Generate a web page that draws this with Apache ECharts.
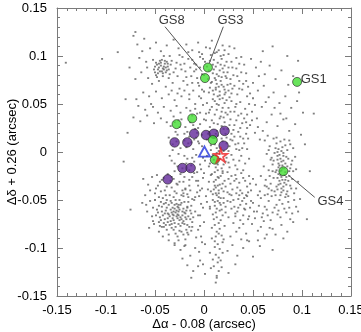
<!DOCTYPE html>
<html><head><meta charset="utf-8">
<script src="https://cdn.jsdelivr.net/npm/echarts@6/dist/echarts.min.js"></script>
<style>html,body{margin:0;padding:0;background:#fff}#c{width:361px;height:332px}</style>
</head><body><div id="c"></div>
<script>
// tick labels
const tickValues = [-0.15,-0.1,-0.05,0,0.05,0.1,0.15];
const xTitle = 'Δα - 0.08 (arcsec)';
const yTitle = 'Δδ + 0.26 (arcsec)';

const cloudUpperLeft = [[-0.072,0.121],[-0.068,0.112],[-0.061,0.118],[-0.055,0.108],[-0.049,0.114],[-0.044,0.105],[-0.038,0.111],[-0.031,0.117],[-0.026,0.108],[-0.022,0.099],
[-0.066,0.098],[-0.059,0.094],[-0.052,0.096],[-0.048,0.091],[-0.046,0.088],[-0.044,0.093],[-0.042,0.087],[-0.040,0.092],[-0.043,0.084],[-0.047,0.082],
[-0.051,0.086],[-0.037,0.089],[-0.035,0.081],[-0.033,0.095],[-0.029,0.087],[-0.027,0.079],[-0.024,0.091],[-0.064,0.083],[-0.070,0.076],[-0.057,0.077],
[-0.053,0.071],[-0.046,0.074],[-0.039,0.068],[-0.032,0.072],[-0.025,0.066],[-0.021,0.074],[-0.062,0.062],[-0.056,0.058],[-0.049,0.063],[-0.043,0.056],
[-0.036,0.060],[-0.030,0.054],[-0.023,0.058],[-0.067,0.048],[-0.060,0.044],[-0.054,0.050],[-0.047,0.041],[-0.041,0.047],[-0.034,0.043],[-0.028,0.048],
[-0.072,0.036],[-0.065,0.032],[-0.058,0.038],[-0.051,0.030],[-0.044,0.035],[-0.038,0.031],[-0.031,0.037],[-0.026,0.033],[-0.069,0.055],[-0.041,0.100],
[-0.050,0.089],[-0.045,0.095],[-0.041,0.089],[-0.038,0.094],[-0.036,0.086],[-0.034,0.091],[-0.049,0.080],[-0.042,0.079],[-0.039,0.083],[-0.031,0.083],
[-0.028,0.093],[-0.023,0.086],[-0.020,0.092],[-0.058,0.088],[-0.063,0.105],[-0.035,0.100],[-0.025,0.101],[-0.016,0.104],[-0.012,0.096],[-0.008,0.091],
[-0.020,0.064],[-0.015,0.060],[-0.012,0.072],[-0.007,0.077],[-0.010,0.084],[-0.014,0.088],[-0.018,0.078],[-0.033,0.064],[-0.027,0.061],[-0.052,0.047],
[-0.049,0.093],[-0.047,0.086],[-0.046,0.092],[-0.045,0.084],[-0.044,0.090],[-0.043,0.096],[-0.042,0.082],[-0.041,0.086],[-0.040,0.095],[-0.039,0.088],
[-0.038,0.085],[-0.037,0.092],[-0.050,0.083],[-0.048,0.078],[-0.036,0.077]];
const cloudUpperCenter = [[-0.018,0.112],[-0.012,0.106],[-0.006,0.114],[0.002,0.109],[0.008,0.116],[0.013,0.104],[0.019,0.111],[0.025,0.102],[0.031,0.108],[0.038,0.099],
[-0.016,0.097],[-0.010,0.092],[-0.004,0.099],[0.001,0.094],[0.007,0.101],[0.010,0.096],[0.012,0.089],[0.014,0.093],[0.016,0.085],[0.018,0.097],
[0.021,0.090],[0.024,0.083],[0.028,0.094],[0.033,0.087],[0.041,0.091],[-0.019,0.084],[-0.013,0.079],[-0.008,0.086],[-0.002,0.081],[0.004,0.076],
[0.009,0.082],[0.011,0.077],[0.013,0.071],[0.015,0.079],[0.017,0.074],[0.020,0.068],[0.023,0.077],[0.027,0.071],[0.030,0.080],[0.036,0.074],
[0.043,0.082],[-0.017,0.070],[-0.011,0.064],[-0.005,0.069],[0.000,0.063],[0.006,0.067],[0.010,0.060],[0.012,0.065],[0.014,0.058],[0.016,0.063],
[0.019,0.056],[0.022,0.062],[0.026,0.057],[0.029,0.066],[0.034,0.060],[0.039,0.065],[0.044,0.058],[-0.015,0.055],[-0.009,0.050],[-0.003,0.056],
[0.003,0.051],[0.008,0.047],[0.011,0.053],[0.013,0.044],[0.015,0.049],[0.018,0.042],[0.021,0.051],[0.025,0.046],[0.028,0.053],[0.032,0.047],
[0.037,0.052],[0.042,0.045],[-0.014,0.043],[-0.007,0.040],[0.005,0.041],[0.024,0.039],[0.031,0.042],[0.035,0.038],[0.046,0.050],[0.040,0.071],
[0.026,0.110],[0.033,0.098],[0.036,0.092],[0.029,0.088],[0.034,0.079],[0.038,0.083],[0.027,0.076],[0.031,0.069],[0.036,0.066],[0.025,0.064],
[0.015,0.106],[0.020,0.101],[0.023,0.094],[0.017,0.091],[0.010,0.086],[0.020,0.083],[0.025,0.088],[0.006,0.095],[-0.002,0.102],[0.003,0.089],
[0.012,0.075],[0.018,0.078],[0.024,0.070],[0.007,0.072],[0.015,0.068],[0.021,0.065],[0.028,0.061],[0.009,0.064],[0.016,0.059],[0.023,0.054]];
const cloudUpperRight = [[0.048,0.097],[0.053,0.088],[0.058,0.094],[0.062,0.081],[0.067,0.090],[0.073,0.076],[0.079,0.085],[0.086,0.070],[0.091,0.079],[0.097,0.062],
[0.050,0.072],[0.055,0.064],[0.061,0.069],[0.066,0.057],[0.071,0.062],[0.077,0.051],[0.083,0.058],[0.089,0.046],[0.095,0.053],[0.101,0.041],
[0.049,0.042],[0.054,0.035],[0.059,0.047],[0.064,0.031],[0.069,0.039],[0.075,0.027],[0.081,0.034],[0.087,0.022],[0.093,0.029],[0.099,0.018],
[0.052,0.020],[0.057,0.013],[0.047,0.028],[0.103,0.008],[0.096,0.095],[0.085,0.100],[0.060,0.105],[0.070,0.110],
[0.043,0.074],[0.045,0.068],[0.047,0.061],[0.050,0.056],[0.052,0.049],[0.044,0.039],[0.049,0.033],[0.055,0.026],[0.060,0.022],[0.065,0.017],
[0.072,0.046],[0.078,0.040],[0.084,0.035],[0.063,0.052],[0.056,0.079]];
const cloudCenter = [[-0.034,0.027],[-0.029,0.021],[-0.023,0.034],[-0.019,0.026],[-0.014,0.031],[-0.009,0.024],[-0.004,0.029],[0.002,0.033],[0.006,0.026],[0.010,0.030],
[0.013,0.022],[0.016,0.035],[0.018,0.027],[0.021,0.031],[0.024,0.024],[0.027,0.034],[0.031,0.028],[0.035,0.021],[0.039,0.030],[0.044,0.025],
[-0.036,0.015],[-0.032,0.008],[-0.027,0.018],[-0.024,0.004],[-0.020,0.012],[-0.015,0.016],[-0.011,0.003],[-0.006,0.011],[-0.002,0.006],[0.003,0.013],
[0.007,0.002],[0.011,0.008],[0.014,0.017],[0.017,0.004],[0.019,0.011],[0.023,0.015],[0.026,0.006],[0.029,0.012],[0.033,0.003],[0.037,0.016],
[0.041,0.009],[0.045,0.014],[0.015,0.001],[0.012,0.019],[0.028,0.019],
[-0.035,-0.004],[-0.030,-0.012],[-0.026,-0.002],[-0.022,-0.017],[-0.017,-0.007],[-0.013,-0.014],[-0.008,-0.003],[-0.003,-0.018],[0.001,-0.009],[0.005,-0.015],
[0.008,-0.005],[0.012,-0.011],[0.014,-0.019],[0.016,-0.002],[0.020,-0.013],[0.023,-0.006],[0.026,-0.016],[0.030,-0.008],[0.034,-0.018],[0.038,-0.004],
[0.042,-0.012],[0.046,-0.007],[0.013,-0.001],[0.018,-0.017],
[-0.033,-0.026],[-0.028,-0.033],[-0.024,-0.023],[-0.019,-0.038],[-0.015,-0.029],[-0.010,-0.022],[-0.006,-0.035],[-0.001,-0.027],[0.004,-0.039],[0.007,-0.024],
[0.010,-0.031],[0.012,-0.037],[0.014,-0.026],[0.016,-0.034],[0.019,-0.022],[0.022,-0.036],[0.025,-0.028],[0.029,-0.039],[0.032,-0.024],[0.036,-0.032],
[0.040,-0.027],[0.044,-0.036],[0.011,-0.021],[0.015,-0.040],
[-0.031,-0.047],[-0.026,-0.055],[-0.021,-0.043],[-0.017,-0.058],[-0.012,-0.049],[-0.007,-0.042],[-0.003,-0.054],[0.002,-0.046],[0.006,-0.057],[0.009,-0.044],
[0.011,-0.052],[0.013,-0.059],[0.015,-0.047],[0.017,-0.055],[0.020,-0.041],[0.024,-0.051],[0.028,-0.045],[0.031,-0.057],[0.035,-0.049],[0.039,-0.043],
[0.043,-0.054],[0.012,-0.043],[0.014,-0.051],[0.016,-0.061],
[-0.030,0.031],[-0.025,0.026],[-0.017,0.021],[-0.011,0.028],[-0.007,0.020],[0.026,0.028],[0.030,0.023],[0.033,0.033],[0.037,0.025],[0.041,0.035],
[-0.032,0.002],[-0.028,0.011],[-0.018,0.005],[-0.013,0.010],[-0.008,0.015],[0.025,0.001],[0.031,0.016],[0.035,0.009],[0.039,0.004],[0.043,0.019],
[-0.033,-0.009],[-0.027,-0.015],[-0.020,-0.004],[-0.015,-0.019],[-0.010,-0.010],[0.025,-0.011],[0.028,-0.003],[0.032,-0.014],[0.036,-0.009],[0.040,-0.019],
[-0.030,-0.020],[-0.021,-0.031],[-0.012,-0.026],[-0.008,-0.030],[0.027,-0.033],[0.031,-0.030],[0.034,-0.037],[0.038,-0.022],[0.042,-0.030],[0.046,-0.025],
[0.026,-0.044],[0.030,-0.050],[0.033,-0.043],[0.037,-0.055],[0.041,-0.048],[0.045,-0.042],[0.028,-0.059],[0.034,-0.062],[0.040,-0.066],[0.025,-0.068],
[-0.024,0.041],[-0.018,0.046],[-0.012,0.038],[-0.009,0.045],[0.002,0.040],[0.020,0.036],[0.027,0.042],[0.033,0.050],[0.038,0.040],[0.043,0.031],
[-0.020,0.019],[-0.016,0.009],[-0.010,0.013],[0.004,0.019],[0.022,0.019],[0.027,0.013],[0.032,0.008],[0.036,0.002],[0.040,0.014],[0.044,0.003],
[-0.018,-0.012],[-0.012,-0.006],[-0.007,-0.021],[0.003,-0.004],[0.024,-0.021],[0.028,-0.025],[0.033,-0.028],[0.037,-0.040],[0.043,-0.045],[0.047,-0.033],
[-0.014,-0.040],[-0.009,-0.047],[-0.004,-0.040],[0.003,-0.052],[0.022,-0.063],[0.027,-0.052],[0.032,-0.067],[0.036,-0.045],[0.042,-0.060],[0.048,-0.051]];
const cloudStripes = [[0.006,0.108],[0.011,0.103],[0.017,0.100],[0.021,0.106],[0.009,0.091],[0.019,0.087],[0.005,0.085],[0.013,0.081],[0.022,0.079],[0.008,0.073],
[0.018,0.070],[0.012,0.067],[0.005,0.062],[0.021,0.060],[0.016,0.055],[0.009,0.055],[0.013,0.050],[0.019,0.046],[0.006,0.044],[0.011,0.039],
[0.017,0.037],[0.022,0.041],[0.008,0.033],[0.014,0.029],[0.020,0.024],[0.005,0.021],[0.011,0.016],[0.018,0.014],[0.023,0.009],[0.007,0.007],
[0.013,0.004],[0.020,0.001],[0.009,-0.003],[0.016,-0.007],[0.022,-0.010],[0.006,-0.012],[0.012,-0.016],[0.019,-0.020],[0.008,-0.023],[0.015,-0.027],
[0.021,-0.030],[0.005,-0.031],[0.011,-0.035],[0.018,-0.038],[0.024,-0.042],[0.007,-0.041],[0.013,-0.045],[0.020,-0.048],[0.009,-0.050],[0.016,-0.053],
[0.022,-0.057],[0.006,-0.059],[0.012,-0.063],[0.019,-0.066],[0.010,-0.070],[0.015,-0.074],[0.021,-0.077],[0.008,-0.079],[0.013,-0.083],[0.018,-0.087],
[0.011,-0.093],[0.016,-0.101],[0.012,-0.107],[0.017,-0.113],[0.010,-0.119],[0.015,-0.124],[0.013,-0.131],[0.009,-0.112],[0.019,-0.105],[0.014,-0.096],
[-0.005,0.104],[-0.001,0.097],[-0.004,0.088],[0.000,0.080],[-0.006,0.072],[-0.002,0.065],[-0.005,0.058],[-0.001,0.049],[-0.004,0.041],[0.000,0.034],
[-0.006,0.025],[-0.002,0.018],[-0.005,0.009],[-0.001,-0.006],[-0.004,-0.013],[0.000,-0.022],[-0.006,-0.030],[-0.002,-0.038],[-0.005,-0.046],[-0.001,-0.058],
[-0.004,-0.066],[0.000,-0.073],[-0.006,-0.081],[-0.002,-0.094],[-0.005,-0.104],[-0.001,-0.117],
[0.010,-0.008],[0.014,-0.013],[0.017,-0.025],[0.012,-0.029],[0.019,-0.033],[0.010,-0.039],[0.015,-0.043],[0.017,-0.048],[0.011,-0.056],[0.018,-0.060],
[0.013,-0.068],[0.017,-0.071],[0.011,-0.076],[0.016,-0.080],[0.012,-0.088],[0.020,-0.091],[0.015,-0.085],[0.009,-0.065],[0.020,-0.053],[0.014,-0.035]];
const cloudRightCluster = [[0.062,0.012],[0.067,0.006],[0.071,0.014],[0.074,0.009],[0.076,0.003],[0.078,0.011],[0.080,0.005],[0.082,0.013],[0.085,0.002],[0.088,0.008],
[0.091,0.004],[0.064,-0.002],[0.069,-0.006],[0.072,-0.001],[0.075,-0.008],[0.077,-0.003],[0.079,-0.010],[0.081,-0.004],[0.083,-0.012],[0.086,-0.007],
[0.089,-0.013],[0.093,-0.005],[0.061,-0.015],[0.066,-0.019],[0.070,-0.013],[0.073,-0.021],[0.076,-0.016],[0.078,-0.024],[0.080,-0.017],[0.084,-0.026],
[0.087,-0.020],[0.090,-0.028],[0.094,-0.018],[0.063,-0.029],[0.068,-0.033],[0.071,-0.027],[0.074,-0.036],[0.077,-0.030],[0.079,-0.038],[0.082,-0.032],
[0.085,-0.041],[0.088,-0.035],[0.092,-0.043],[0.096,-0.031],[0.065,-0.044],[0.072,-0.041],[0.078,-0.045],[0.083,-0.021],[0.075,0.000],[0.086,-0.030],
[0.074,0.015],[0.079,0.001],[0.083,0.007],[0.087,0.012],[0.073,0.004],[0.081,-0.001],[0.084,-0.005],[0.076,-0.012],[0.080,-0.014],[0.085,-0.015],
[0.074,-0.019],[0.078,-0.020],[0.082,-0.024],[0.087,-0.025],[0.075,-0.027],[0.080,-0.029],[0.084,-0.034],[0.076,-0.034],[0.081,-0.040],[0.073,-0.045],
[0.086,-0.046],[0.077,-0.050],[0.070,-0.020],[0.068,-0.008],[0.091,-0.020],[0.066,0.002],[0.069,-0.040],[0.089,-0.038],
[0.075,-0.004],[0.078,-0.007],[0.081,-0.009],[0.077,-0.014],[0.079,-0.019],[0.082,-0.017],[0.076,-0.023],[0.079,-0.026],[0.083,-0.029],[0.078,-0.033],
[0.081,-0.036],[0.075,-0.039],[0.079,-0.042],[0.084,-0.044],[0.071,-0.009],[0.088,-0.017],[0.090,-0.009],[0.067,-0.025],[0.064,-0.036],[0.094,-0.038]];
const cloudLowerLeft = [[-0.062,-0.028],[-0.057,-0.034],[-0.053,-0.026],[-0.049,-0.038],[-0.045,-0.031],[-0.041,-0.027],[-0.038,-0.036],[-0.034,-0.030],[-0.030,-0.041],[-0.027,-0.034],
[-0.023,-0.045],[-0.019,-0.039],[-0.016,-0.047],[-0.060,-0.045],[-0.055,-0.051],[-0.050,-0.043],[-0.046,-0.056],[-0.042,-0.048],[-0.039,-0.053],[-0.035,-0.045],
[-0.032,-0.058],[-0.029,-0.050],[-0.026,-0.062],[-0.024,-0.055],[-0.021,-0.059],[-0.019,-0.064],[-0.017,-0.057],[-0.014,-0.061],[-0.011,-0.068],[-0.058,-0.062],
[-0.053,-0.067],[-0.048,-0.060],[-0.044,-0.071],[-0.040,-0.064],[-0.037,-0.069],[-0.033,-0.063],[-0.030,-0.074],[-0.028,-0.067],[-0.025,-0.071],[-0.022,-0.066],
[-0.020,-0.075],[-0.018,-0.070],[-0.015,-0.078],[-0.012,-0.073],[-0.009,-0.062],[-0.056,-0.079],[-0.051,-0.075],[-0.046,-0.083],[-0.041,-0.078],[-0.036,-0.086],
[-0.031,-0.081],[-0.027,-0.088],[-0.023,-0.083],[-0.019,-0.091],[-0.016,-0.086],[-0.013,-0.082],[-0.008,-0.089],[-0.063,-0.053],[-0.024,-0.077],[-0.022,-0.062],
[-0.026,-0.058],[-0.020,-0.052],[-0.028,-0.061],[-0.018,-0.081],[-0.035,-0.076],[-0.044,-0.041],[-0.052,-0.058],[-0.010,-0.050],[-0.006,-0.066],[-0.004,-0.077],
[-0.048,-0.024],[-0.043,-0.029],[-0.037,-0.023],[-0.031,-0.028],[-0.025,-0.031],[-0.020,-0.026],[-0.015,-0.035],[-0.047,-0.035],[-0.040,-0.040],[-0.033,-0.037],
[-0.028,-0.043],[-0.022,-0.040],[-0.017,-0.044],[-0.046,-0.047],[-0.039,-0.045],[-0.034,-0.051],[-0.030,-0.055],[-0.025,-0.050],[-0.021,-0.046],[-0.016,-0.052],
[-0.044,-0.052],[-0.038,-0.058],[-0.031,-0.062],[-0.027,-0.057],[-0.023,-0.053],[-0.018,-0.061],[-0.013,-0.056],[-0.043,-0.062],[-0.036,-0.065],[-0.032,-0.069],
[-0.027,-0.065],[-0.024,-0.068],[-0.020,-0.063],[-0.016,-0.067],[-0.013,-0.064],[-0.041,-0.074],[-0.034,-0.072],[-0.029,-0.078],[-0.026,-0.075],[-0.021,-0.072],
[-0.017,-0.076],[-0.014,-0.070],[-0.038,-0.081],[-0.033,-0.079],[-0.025,-0.082],[-0.021,-0.086],[-0.017,-0.084],[-0.012,-0.078],[-0.029,-0.085],[-0.042,-0.088],
[-0.036,-0.092],[-0.030,-0.097],[-0.026,-0.092],[-0.020,-0.098],[-0.049,-0.066],[-0.052,-0.072],[-0.045,-0.077],[-0.055,-0.040],[-0.059,-0.055],[-0.050,-0.050],
[-0.047,-0.063],[-0.045,-0.068],[-0.042,-0.066],[-0.040,-0.070],[-0.039,-0.061],[-0.037,-0.064],[-0.035,-0.067],[-0.034,-0.060],[-0.032,-0.065],[-0.031,-0.071],
[-0.029,-0.063],[-0.027,-0.069],[-0.026,-0.066],[-0.023,-0.070],[-0.022,-0.074],[-0.019,-0.068],[-0.043,-0.057],[-0.041,-0.054],[-0.038,-0.050],[-0.036,-0.055],
[-0.033,-0.053],[-0.030,-0.059],[-0.028,-0.054],[-0.025,-0.060],[-0.046,-0.073],[-0.043,-0.078],[-0.039,-0.076],[-0.037,-0.073],[-0.033,-0.075],[-0.031,-0.066]];
const cloudLowerRight = [[0.032,-0.064],[0.037,-0.071],[0.041,-0.059],[0.046,-0.067],[0.050,-0.053],[0.054,-0.062],[0.058,-0.048],[0.062,-0.057],[0.066,-0.051],[0.070,-0.063],
[0.074,-0.055],[0.078,-0.068],[0.082,-0.059],[0.086,-0.052],[0.090,-0.064],[0.094,-0.057],[0.098,-0.049],[0.036,-0.079],[0.043,-0.085],[0.049,-0.075],
[0.055,-0.082],[0.061,-0.072],[0.067,-0.079],[0.073,-0.086],[0.079,-0.076],[0.085,-0.083],[0.091,-0.073],[0.048,-0.040],[0.053,-0.034],[0.057,-0.041],
[0.044,-0.046],[0.065,-0.066],[0.069,-0.046],[0.076,-0.061],[0.088,-0.070],[0.039,-0.051],[0.060,-0.064],[0.047,-0.058],[0.083,-0.047],[0.052,-0.069],
[0.035,-0.058],[0.040,-0.075],[0.045,-0.070],[0.051,-0.062],[0.056,-0.056],[0.059,-0.068],[0.064,-0.060],[0.068,-0.071],[0.072,-0.058],[0.075,-0.065],
[0.080,-0.054],[0.084,-0.063],[0.087,-0.058],[0.092,-0.050],[0.096,-0.062],[0.058,-0.078],[0.064,-0.086],[0.070,-0.080],[0.081,-0.090],[0.044,-0.092],
[0.055,-0.092],[0.033,-0.083],[0.030,-0.074],[0.038,-0.091],[0.062,-0.045],[0.066,-0.038],[0.055,-0.045],[0.050,-0.028],[0.058,-0.025],[0.062,-0.035]];
const cloudBottom = [[-0.030,-0.095],[-0.024,-0.102],[-0.019,-0.097],[-0.014,-0.108],[-0.009,-0.100],[-0.004,-0.113],[0.001,-0.096],[0.006,-0.105],[0.011,-0.099],[0.015,-0.110],
[0.019,-0.094],[0.024,-0.103],[0.029,-0.097],[0.034,-0.108],[0.040,-0.100],[0.046,-0.093],[-0.017,-0.118],[-0.011,-0.124],[-0.006,-0.119],[0.001,-0.127],
[0.007,-0.121],[0.013,-0.129],[0.018,-0.120],[0.025,-0.126],[0.032,-0.117],[-0.013,-0.131],[0.012,-0.136],[0.050,-0.109],[0.057,-0.098],[-0.022,-0.111],
[0.014,-0.115],[0.008,-0.090],[-0.003,-0.088],[0.027,-0.088],[0.062,-0.090],[0.070,-0.102]];
const cloudOutliers = [[-0.141,0.093],[-0.104,0.097],[-0.088,0.104],[-0.080,0.055],[-0.078,0.020],[-0.082,-0.010],[-0.075,-0.060],[0.108,-0.020],[0.112,0.040],[0.105,-0.070],[-0.070,0.125],[-0.076,0.088]];

// guide stars (green)
const greenNames = ['GS3','GS8','GS1','','','','','GS4'];
const greenPoints = [[0.004,0.088],[0.001,0.077],[0.095,0.073],[-0.028,0.029],[-0.012,0.035],[0.009,0.0125],[0.011,-0.008],[0.081,-0.020]];
// purple points
const purplePoints = [[-0.030,0.010],[-0.017,0.010],[-0.010,0.019],[0.002,0.0177],[0.010,0.019],[0.021,0.022],[0.020,0.0066],[-0.022,-0.0167],[-0.0136,-0.0167],[-0.037,-0.0285]];
// blue triangle and red star
const trianglePoint = [[0.0005,0.0005]];
const starPoint = [[0.017,-0.0035]];

// annotation texts and leader lines
const annLabels = [['GS8',-0.033,0.137],['GS3',0.027,0.137],['GS1',0.112,0.0755],['GS4',0.129,-0.0518]];
const annLines = [[[-0.0398,0.1305],[-0.002,0.0837]],[[0.0197,0.1305],[0.0054,0.0924]],[[0.086,-0.024],[0.113,-0.0472]]];

const cloud = [].concat(cloudUpperLeft,cloudUpperCenter,cloudUpperRight,cloudCenter,cloudStripes,cloudRightCluster,cloudLowerLeft,cloudLowerRight,cloudBottom,cloudOutliers);
const FONT = 'Liberation Sans, Arial, Helvetica, sans-serif';
const frameColor = '#7a7a7a';
function fmt(v){ return String(Math.round(v*100)/100); }
function axis(extra, interval, tickLen, showLine){
  return Object.assign({type:'value',min:-0.15,max:0.15,interval:interval,
    axisLine:{show:showLine,onZero:false,lineStyle:{color:frameColor,width:1}},
    axisTick:{show:true,inside:true,length:tickLen,lineStyle:{color:frameColor,width:1}},
    axisLabel:{show:false},
    splitLine:{show:false}}, extra);
}
const labelStyle = {show:true,fontFamily:FONT,fontSize:13,color:'#000',formatter:fmt};
const gridBox = {left:57,right:10,top:8,bottom:36,outerBoundsMode:'none',containLabel:false};
const chart = echarts.init(document.getElementById('c'));
chart.setOption({
  animation:false,
  grid:[Object.assign({},gridBox),Object.assign({},gridBox)],
  xAxis:[
    axis({gridIndex:0,position:'bottom',name:xTitle,nameLocation:'middle',nameGap:22,nameMoveOverlap:false,
      nameTextStyle:{fontFamily:FONT,fontSize:13,color:'#000'},
      axisLabel:Object.assign({margin:8},labelStyle)},0.05,6,true),
    axis({gridIndex:0,position:'top'},0.05,6,true),
    axis({gridIndex:1,position:'bottom'},0.01,3,false),
    axis({gridIndex:1,position:'top'},0.01,3,false)
  ],
  yAxis:[
    axis({gridIndex:0,position:'left',name:yTitle,nameLocation:'middle',nameGap:38,nameRotate:90,nameMoveOverlap:false,
      nameTextStyle:{fontFamily:FONT,fontSize:13,color:'#000'},
      axisLabel:Object.assign({margin:10},labelStyle)},0.05,6,true),
    axis({gridIndex:0,position:'right'},0.05,6,true),
    axis({gridIndex:1,position:'left'},0.01,3,false),
    axis({gridIndex:1,position:'right'},0.01,3,false)
  ],
  series:[
    {type:'scatter',data:cloud,symbol:'rect',symbolSize:[2,1.8],itemStyle:{color:'#5f5f5f'},silent:true,
      markLine:{silent:true,symbol:'none',lineStyle:{color:'#555',width:1,type:'solid'},label:{show:false},
        data:annLines.map(l=>[{coord:l[0]},{coord:l[1]}])}},
    {type:'scatter',data:purplePoints,symbolSize:9.5,itemStyle:{color:'#62289a',borderColor:'#222',borderWidth:0.8}},
    {type:'scatter',data:greenPoints.map((p,i)=>({name:greenNames[i],value:p})),symbolSize:9,itemStyle:{color:'#44dd33',borderColor:'#222',borderWidth:0.8}},
    {type:'scatter',data:trianglePoint,symbol:'triangle',symbolSize:[11,10],itemStyle:{color:'rgba(0,0,0,0)',borderColor:'#2233dd',borderWidth:1.8}},
    {type:'scatter',data:starPoint,symbol:'path://M50,0 L61,35 L98,35 L68,57 L79,91 L50,70 L21,91 L32,57 L2,35 L39,35 Z',symbolSize:13,itemStyle:{color:'rgba(0,0,0,0)',borderColor:'#ee2222',borderWidth:1.8}},
    {type:'scatter',data:annLabels.map(a=>({name:a[0],value:[a[1],a[2]]})),symbolSize:0,
      label:{show:true,position:'inside',formatter:'{b}',fontFamily:FONT,fontSize:13,color:'#000'}}
  ]
});
</script></body></html>
